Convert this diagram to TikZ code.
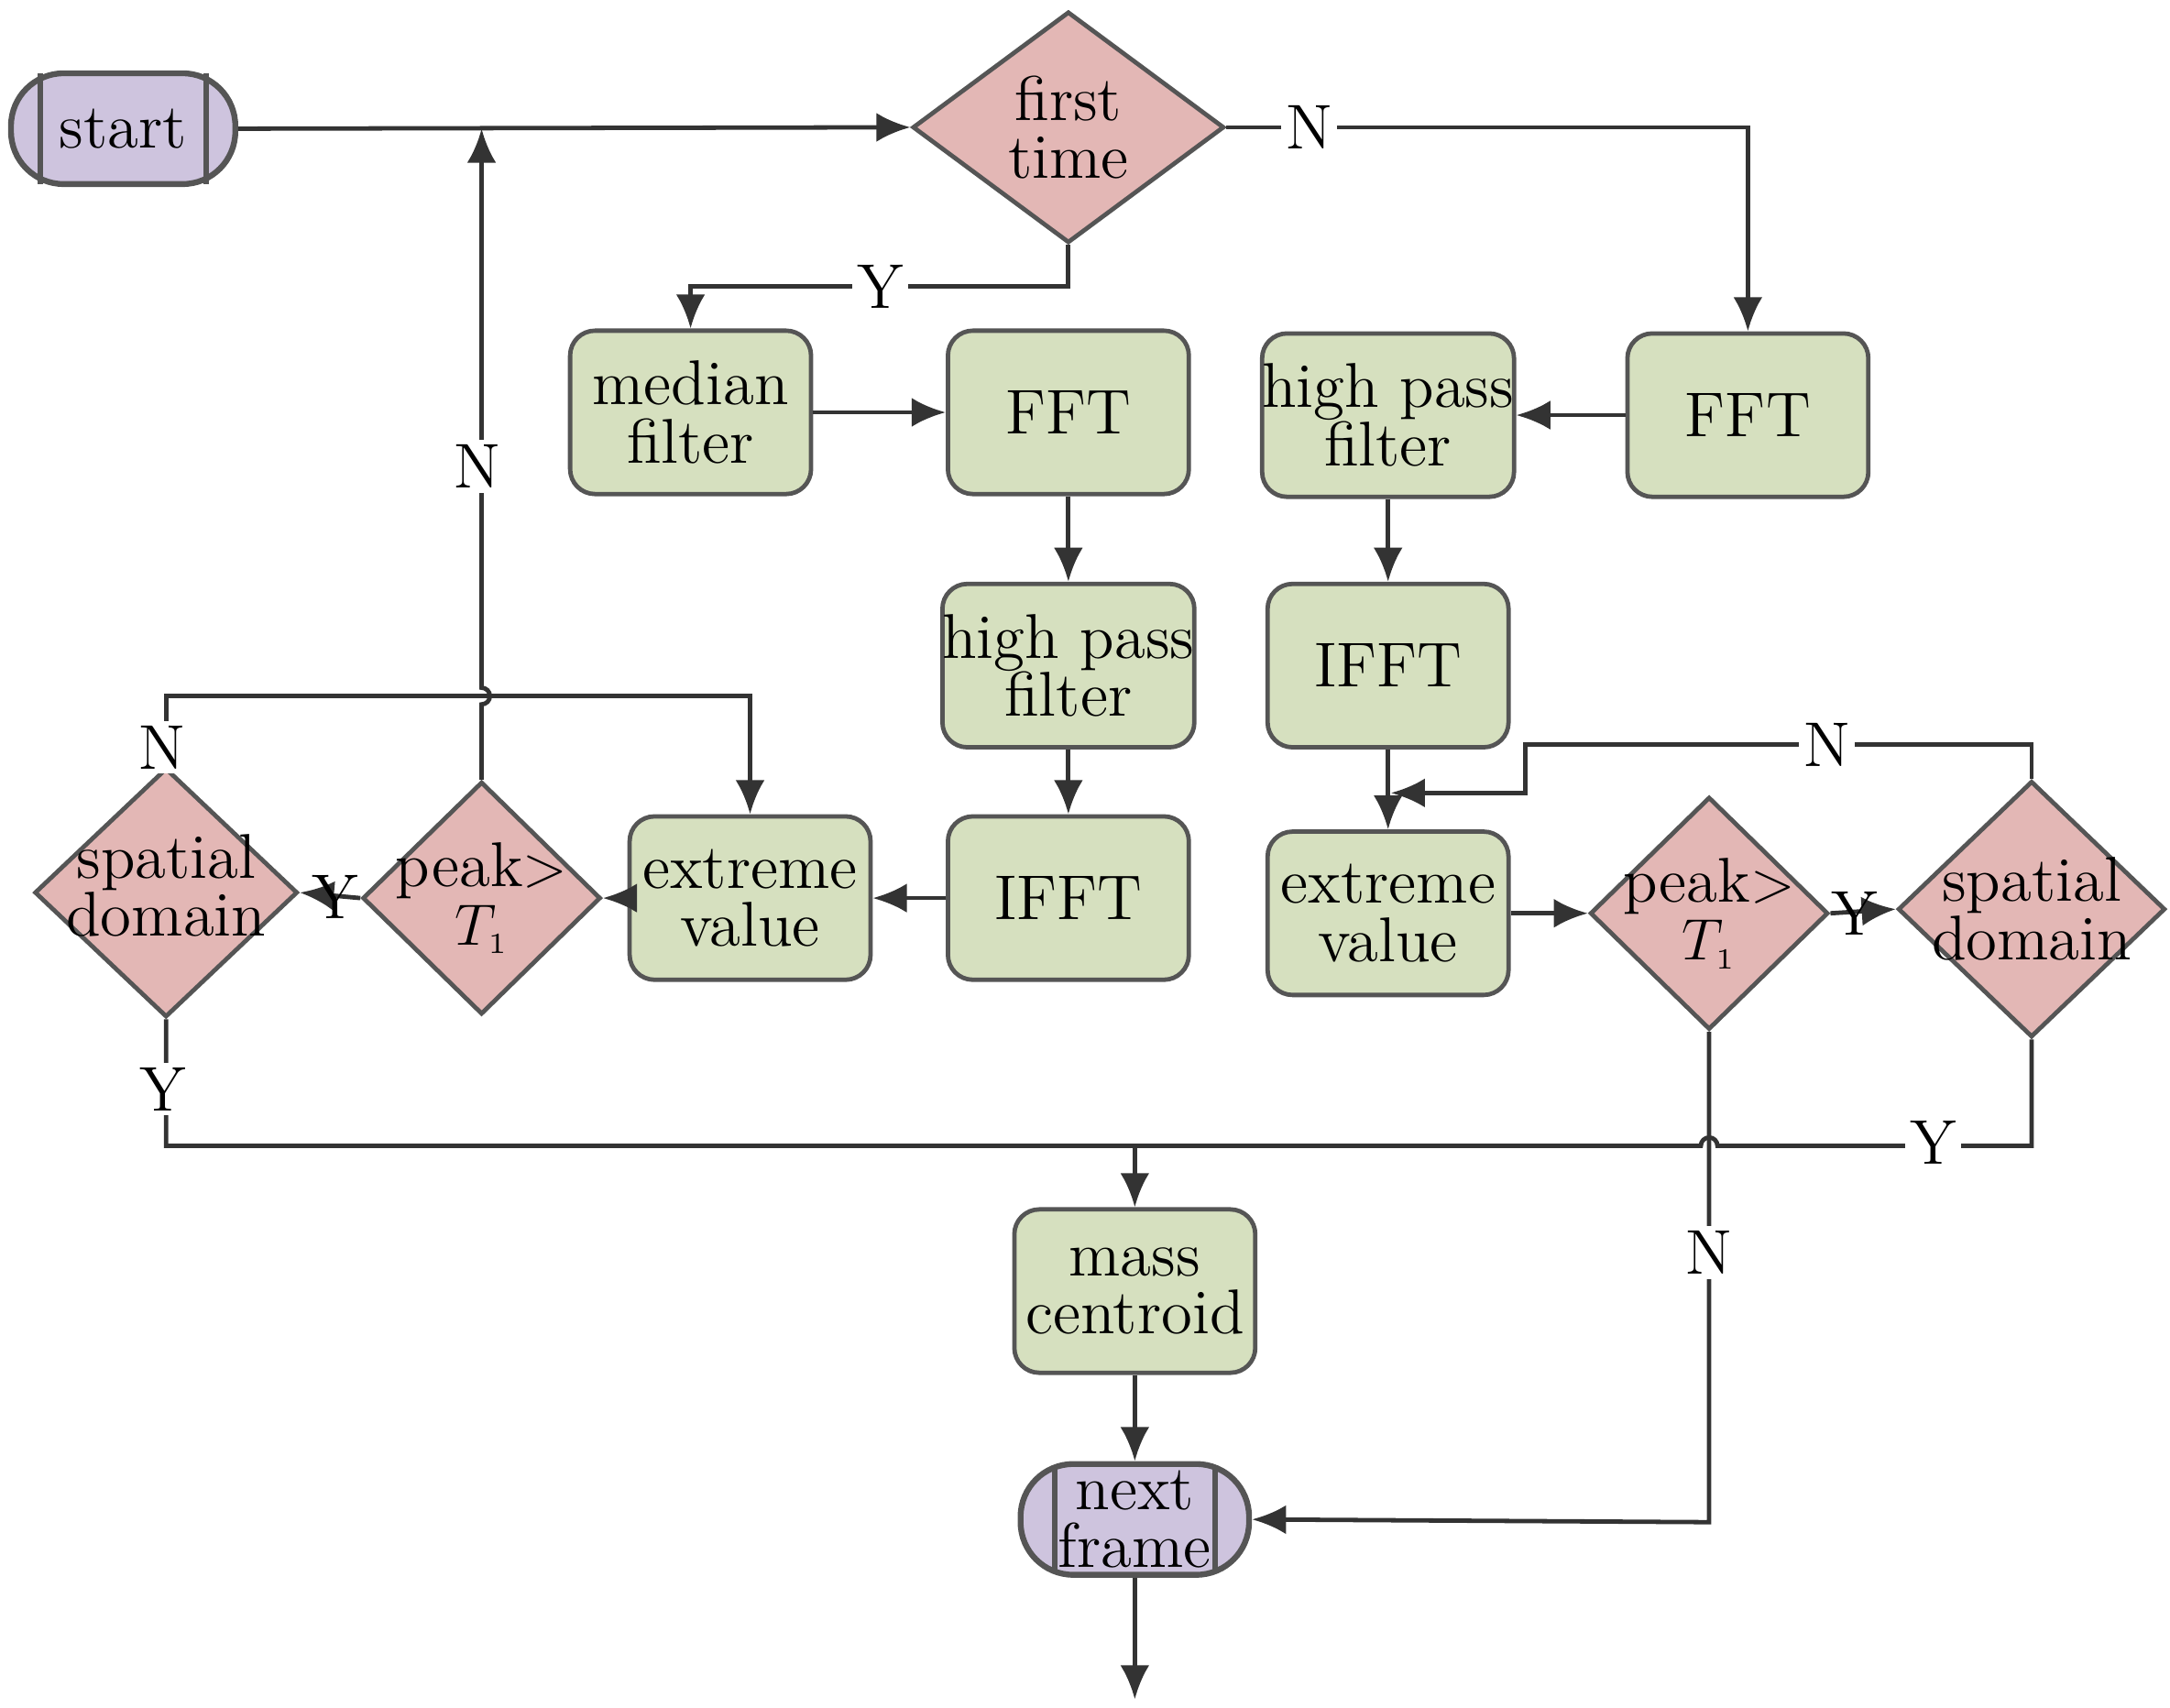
\documentclass[tikz,border=0pt]{standalone}
\usetikzlibrary{shapes.geometric,arrows.meta}
\definecolor{gfill}{HTML}{D6E0BF}
\definecolor{pfill}{HTML}{E3B7B5}
\definecolor{vfill}{HTML}{CEC4DE}
\definecolor{edge}{HTML}{555555}
\begin{document}
\begin{tikzpicture}[x=0.01cm,y=-0.01cm,
  font=\fontsize{13}{14}\selectfont,
  box/.style={draw=edge,line width=0.9pt,fill=gfill,rounded corners=0.18cm,minimum width=1.74cm,minimum height=1.18cm,inner sep=0pt,align=center},
  dia/.style={draw=edge,line width=0.9pt,fill=pfill,diamond,inner sep=0pt},
  term/.style={draw=edge,line width=1.2pt,fill=vfill,rounded corners=0.38cm,minimum height=0.8cm,inner sep=0pt,align=center},
  ar/.style={-{Latex[length=7pt,width=6pt]},line width=0.9pt,draw=black!80},
  ln/.style={line width=0.9pt,draw=black!80},
  lab/.style={fill=white,inner sep=1pt}]
\useasboundingbox (0,0) rectangle (1568,1234);
% terminals
\node[term,minimum width=1.62cm] (start) at (89,93) {};
\draw[edge,line width=1.2pt] (29,53)--(29,133) (149,53)--(149,133);
\node at (89,93) {start};
\node[term,minimum width=1.65cm] (next) at (820,1098) {};
\draw[edge,line width=1.2pt] (762,1059)--(762,1137) (878,1059)--(878,1137);
\node[align=center] at (820,1098) {next\\[-2pt]frame};
% diamonds
\node[dia,minimum width=2.25cm,minimum height=1.67cm] (first) at (772,92) {};
\node[align=center] at (772,92) {first\\[-2pt]time};
\node[dia,minimum width=1.72cm,minimum height=1.68cm] (peakL) at (348,649) {};
\node[align=center] at (348,649) {peak$>$\\[-2pt]$T_{\scriptscriptstyle 1}$};
\node[dia,minimum width=1.9cm,minimum height=1.8cm] (spL) at (120,645) {};
\node[align=center] at (120,640) {spatial\\[-2pt]domain};
\node[dia,minimum width=1.72cm,minimum height=1.68cm] (peakR) at (1235,660) {};
\node[align=center] at (1235,660) {peak$>$\\[-2pt]$T_{\scriptscriptstyle 1}$};
\node[dia,minimum width=1.93cm,minimum height=1.85cm] (spR) at (1468,657) {};
\node[align=center] at (1468,657) {spatial\\[-2pt]domain};
% boxes
\node[box] (median) at (499,298) {median\\[-2pt]filter};
\node[box] (fft1) at (772,298) {FFT};
\node[box] (hpfR) at (1003,300) {high pass\\[-2pt]filter};
\node[box] (fftR) at (1263,300) {FFT};
\node[box] (hpfM) at (772,481) {high pass\\[-2pt]filter};
\node[box] (ifftR) at (1003,481) {IFFT};
\node[box] (ifftM) at (772,649) {IFFT};
\node[box] (extL) at (542,649) {extreme\\[-2pt]value};
\node[box] (extR) at (1003,660) {extreme\\[-2pt]value};
\node[box] (mass) at (820,933) {mass\\[-2pt]centroid};
\coordinate (endp) at (820,1228);
% connectors
\draw[ar] (start.east) -- (first.west);
\draw[ar] (first.east) -- (1263,92) -- (fftR.north);
\node[lab] at (946,92) {N};
\draw[ar] (first.south) -- (772,207) -- (499,207) -- (median.north);
\node[lab] at (636,207) {Y};
\draw[ar] (median) -- (fft1);
\draw[ar] (fft1) -- (hpfM);
\draw[ar] (hpfM) -- (ifftM);
\draw[ar] (ifftM) -- (extL);
\draw[ar] (extL) -- (peakL.east);
\draw[ar] (peakL.west) -- (spL.east);
\node[lab,fill=none] at (242,648) {Y};
\draw[ar] (spL.north) -- (120,503) -- (542,503) -- (extL.north);
\node[lab] at (117,540) {N};
\draw[ar] (peakL.north) -- (348,509) arc(-90:90:0.06cm) -- (348,93);
\node[lab] at (345,337) {N};
\draw[ar] (fftR) -- (hpfR);
\draw[ar] (hpfR) -- (ifftR);
\draw[ar] (ifftR) -- (extR);
\draw[ar] (extR) -- (peakR.west);
\draw[ar] (peakR.east) -- (spR.west);
\node[lab,fill=none] at (1340,660) {Y};
\draw[ar] (spR.north) -- (1468,538) -- (1102,538) -- (1102,573) -- (1005,573);
\node[lab] at (1320,538) {N};
\draw[ln] (spL.south) -- (120,828) -- (1229,828) arc(180:0:0.06cm) -- (1468,828) -- (spR.south);
\draw[ar] (820,828) -- (mass.north);
\node[lab] at (118,787) {Y};
\node[lab] at (1397,826) {Y};
\draw[ar] (peakR.south) -- (1235,1100) -- (next.east);
\node[lab] at (1235,905) {N};
\draw[ar] (mass) -- (next);
\draw[ar] (next) -- (endp);
\end{tikzpicture}
\end{document}
